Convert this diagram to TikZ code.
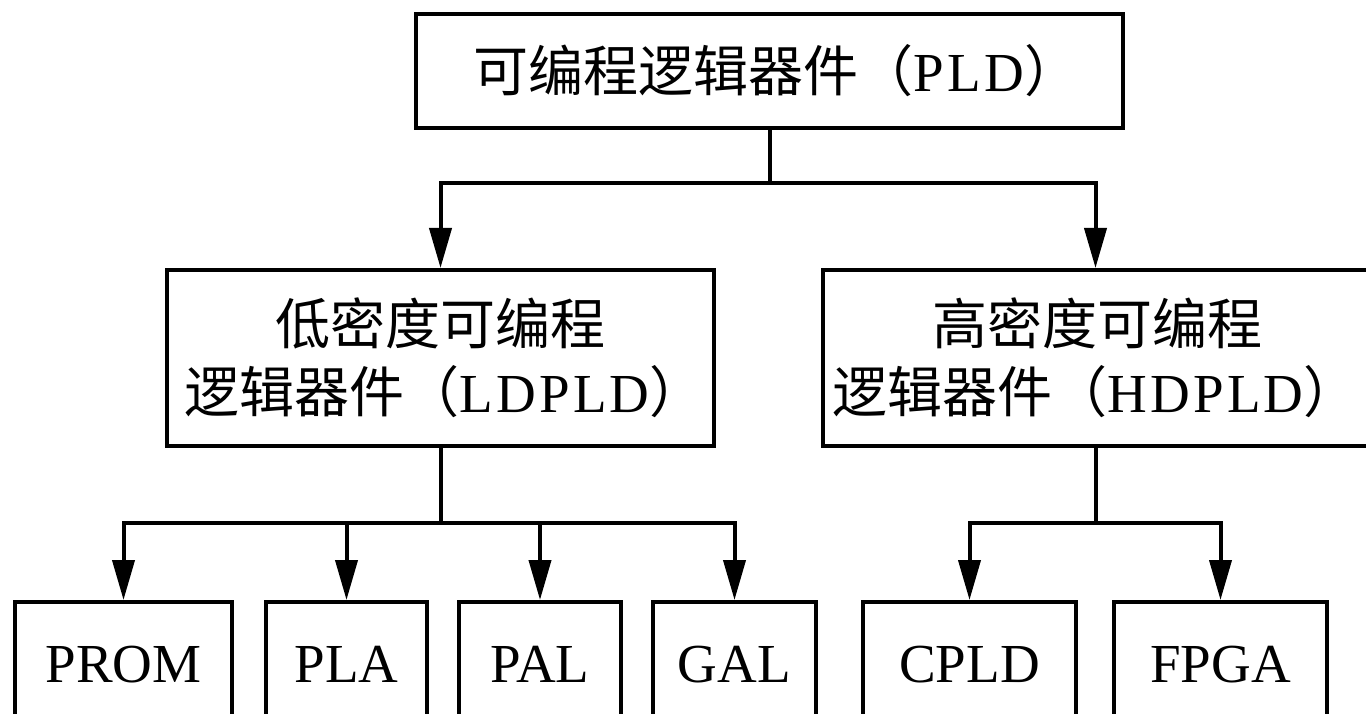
\documentclass[tikz,border=0pt]{standalone}
\usepackage{fontspec}
\setmainfont{Liberation Serif}
\newfontfamily\cjk{Noto Sans CJK SC}
\newfontfamily\spaced[LetterSpace=6]{Liberation Serif}
\usetikzlibrary{arrows.meta}
\begin{document}
\begin{tikzpicture}[x=1pt,y=-1pt,
  box/.style={draw,line width=4pt,inner sep=0pt,align=center,font=\fontsize{55}{68}\selectfont},
  leaf/.style={box,text height=80pt,text depth=60pt,anchor=north},
  conn/.style={line width=4pt},
  arr/.style={conn,-{Triangle[width=22pt,length=40pt]}}]
\useasboundingbox (0,0) rectangle (1366,714);
\clip (0,0) rectangle (1366,714);
\fill[white] (0,0) rectangle (1366,714);
% top
\node[box,minimum width=707pt,minimum height=114pt] (top) at (769.5,71)
  {\hspace*{14pt}{\cjk 可编程逻辑器件（}{\spaced PLD}{\cjk ）}};
% middle
\node[box,minimum width=547pt,minimum height=176pt] (ld) at (440.5,358)
  {{\cjk 低密度可编程}\\\hspace*{8pt}{\cjk 逻辑器件（}{\spaced LDPLD}{\cjk ）}};
\node[box,minimum width=545pt,minimum height=176pt] (hd) at (1095.5,358)
  {\hspace*{4pt}{\cjk 高密度可编程}\\{\cjk 逻辑器件（}{\spaced HDPLD}{\cjk ）}};
% bottom
\node[leaf,minimum width=217pt] (prom) at (123.5,600) {PROM};
\node[leaf,minimum width=161pt] (pla) at (346.5,600) {PLA};
\node[leaf,minimum width=162pt] (pal) at (540,600) {PAL};
\node[leaf,minimum width=163pt] (gal) at (734.5,600) {GAL};
\node[leaf,minimum width=213pt] (cpld) at (969.5,600) {CPLD};
\node[leaf,minimum width=213pt] (fpga) at (1220.5,600) {FPGA};
% junctions
\coordinate (j0) at (769.5,183);
\coordinate (j1) at (440.5,523);
\coordinate (j2) at (1095.5,523);
% connectors
\draw[conn] (top.south) -- (j0);
\draw[arr] (j0) -| (ld.north);
\draw[arr] (j0) -| (hd.north);
\draw[conn] (ld.south) -- (j1);
\draw[arr] (j1) -| (prom.north);
\draw[arr] (j1) -| (pla.north);
\draw[arr] (j1) -| (pal.north);
\draw[arr] (j1) -| (gal.north);
\draw[conn] (hd.south) -- (j2);
\draw[arr] (j2) -| (cpld.north);
\draw[arr] (j2) -| (fpga.north);
\end{tikzpicture}
\end{document}
